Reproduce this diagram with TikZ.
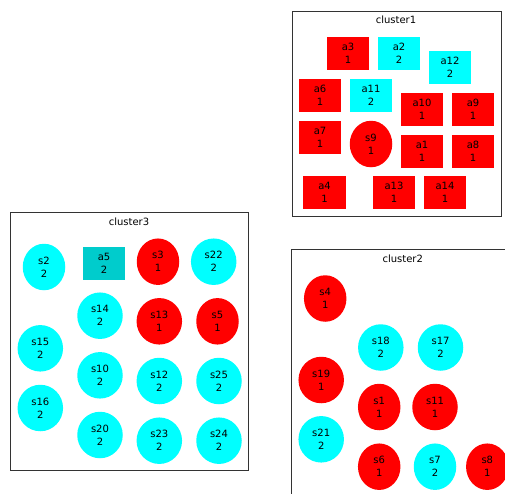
\documentclass[tikz,border=0pt]{standalone}
\usepackage{fontspec}
\setmainfont{DejaVu Sans}
\usetikzlibrary{shapes.geometric}
\definecolor{clred}{RGB}{255,0,0}
\definecolor{clcyan}{RGB}{0,255,255}
\definecolor{clteal}{RGB}{0,204,204}
\definecolor{clframe}{RGB}{51,51,51}
\tikzset{
  memberbox/.style={rectangle, fill=#1, minimum width=42.5pt, minimum height=33pt,
                    inner sep=0pt, align=center, font=\fontsize{10}{13}\selectfont},
  memberell/.style={ellipse, fill=#1, minimum height=46.5pt,
                    inner sep=0pt, align=center, font=\fontsize{10}{13}\selectfont},
  clusterframe/.style={draw=clframe, line width=0.8pt},
  clustertitle/.style={font=\fontsize{10}{12}\selectfont},
}
\begin{document}
\begin{tikzpicture}[x=1pt, y=-1pt]
  \useasboundingbox (0,0) rectangle (505,493);
  \clip (0,0) rectangle (505,493);
  % frames
  \draw[clusterframe] (292,11) rectangle (501,216);
  \draw[clusterframe] (10.7,212.3) rectangle (248.3,470.3);
  \draw[clusterframe] (291.7,249.7) rectangle (520,510);
  \node[clustertitle] (title1) at (396,20) {cluster1};
  \node[clustertitle] (title3) at (129,221.7) {cluster3};
  \node[clustertitle] (title2) at (402.7,259) {cluster2};
  % cluster1
  \foreach \n/\x/\y/\c/\v in {a3/348/53.3/clred/1, a2/399/53.3/clcyan/2,
      a12/450/67.5/clcyan/2, a6/320/95/clred/1, a11/371/95/clcyan/2,
      a10/422/109/clred/1, a9/473/109/clred/1, a7/320/137/clred/1,
      a1/422/151/clred/1, a8/473/151/clred/1, a4/324.5/192.7/clred/1,
      a13/394/192.7/clred/1, a14/445/192.7/clred/1}{
    \node[memberbox=\c] (\n) at (\x,\y) {\n\\\v};
  }
  \node[memberell=clred, minimum width=42.5pt] (s9) at (371,144) {s9\\1};
  % cluster3
  \node[memberbox=clteal] (a5) at (104,263) {a5\\2};
  \foreach \n/\x/\y/\w/\c/\v in {s2/44/267/42.5/clcyan/2, s3/158/261.7/42.5/clred/1,
      s22/213.7/261.7/45.5/clcyan/2, s14/100/315.7/45.5/clcyan/2,
      s13/159.3/321.3/45.5/clred/1, s5/217.5/321.3/42.5/clred/1,
      s15/40.3/348.3/45.5/clcyan/2, s10/100/375.3/45.5/clcyan/2,
      s12/159.3/381/45.5/clcyan/2, s25/219/381/45.5/clcyan/2,
      s16/40.3/408/45.5/clcyan/2, s20/100/435/45.5/clcyan/2,
      s23/159.3/440.7/45.5/clcyan/2, s24/219/440.7/45.5/clcyan/2}{
    \node[memberell=\c, minimum width=\w pt] (\n) at (\x,\y) {\n\\\v};
  }
  % cluster2
  \foreach \n/\x/\y/\w/\c/\v in {s4/325.2/298.5/42.5/clred/1,
      s18/380.8/347.5/45.5/clcyan/2, s17/440.5/347.5/45.5/clcyan/2,
      s19/321.2/380/45.5/clred/1, s1/379.2/407/42.5/clred/1,
      s11/435/407/45.5/clred/1, s21/321.2/439.3/45.5/clcyan/2,
      s6/379.2/466.7/42.5/clred/1, s7/435/466.7/42.5/clcyan/2,
      s8/487.3/466.7/42.5/clred/1}{
    \node[memberell=\c, minimum width=\w pt] (\n) at (\x,\y) {\n\\\v};
  }
\end{tikzpicture}
\end{document}
